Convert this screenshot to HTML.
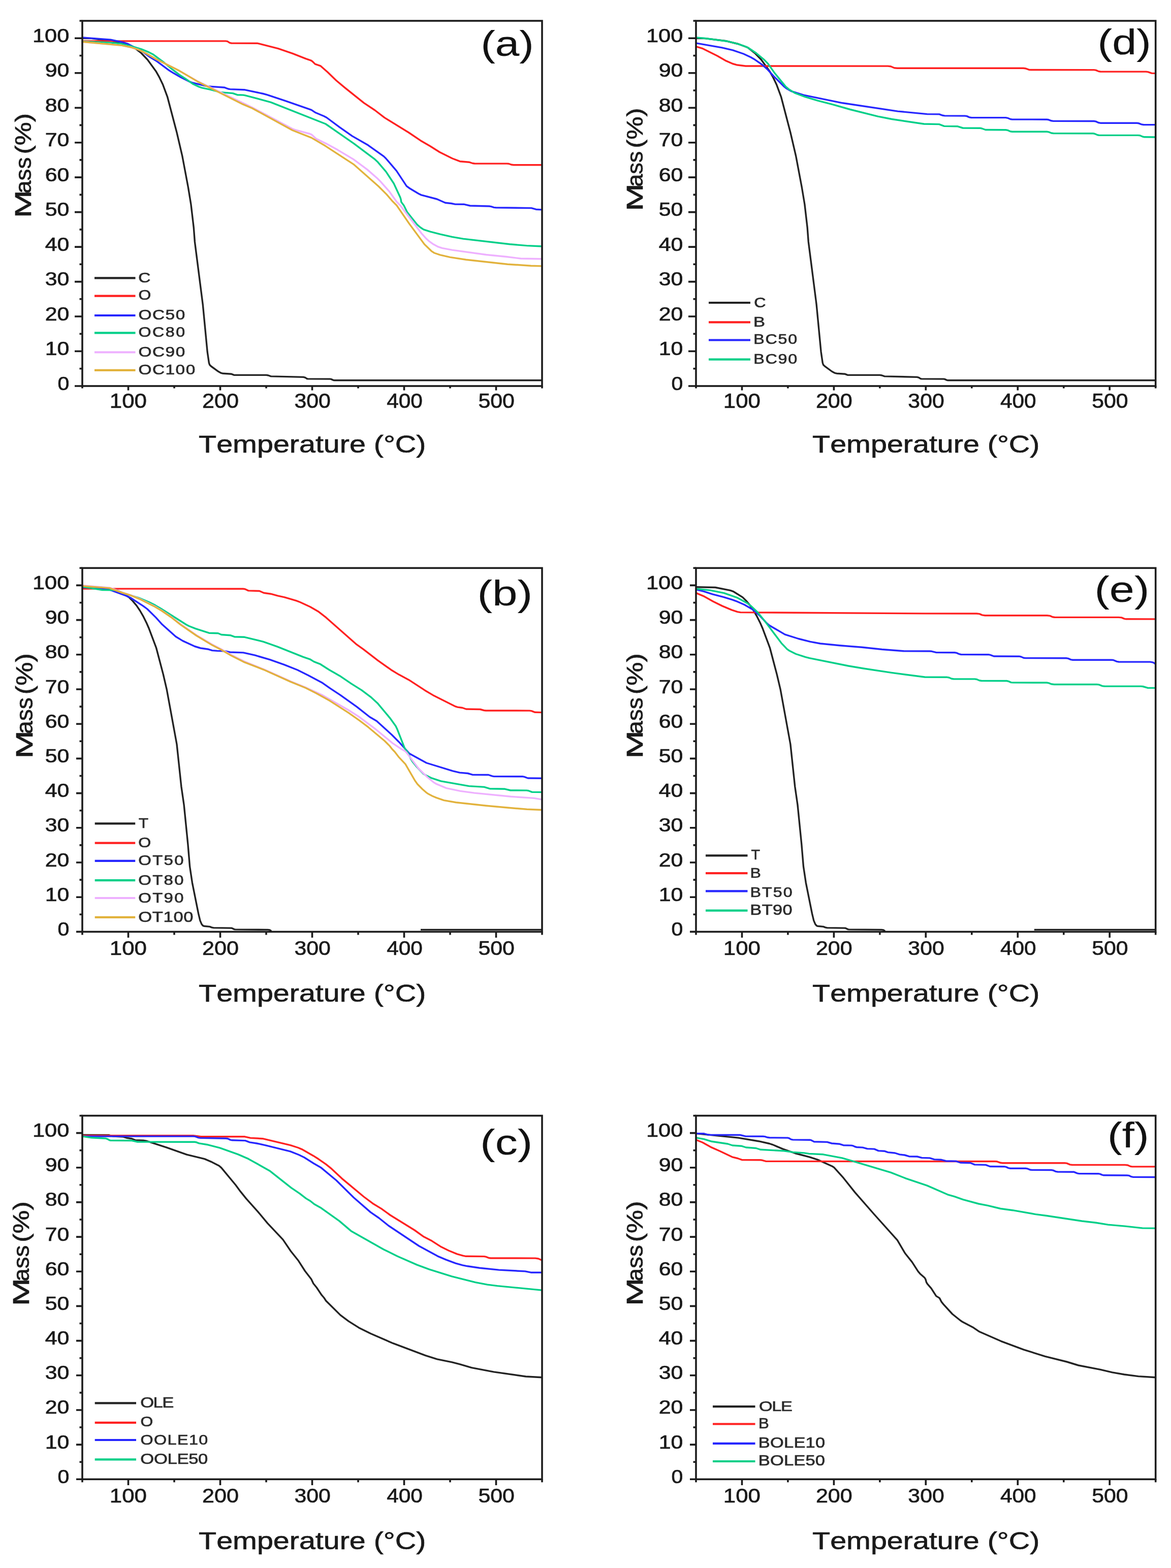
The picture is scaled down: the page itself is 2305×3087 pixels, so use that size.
<!DOCTYPE html>
<html><head><meta charset="utf-8"><title>TGA curves</title><style>
html,body{margin:0;padding:0;background:#fff;}
svg{display:block;}
text{font-family:'Liberation Sans',Arial,sans-serif;font-kerning:none;stroke:currentColor;stroke-width:0.7px;}
.pl{stroke-width:0.2px;}
</style></head><body>
<svg width="2305" height="3087" viewBox="0 0 2305 3087">
<rect width="2305" height="3087" fill="#fff"/>
<polyline points="162.0,75.3 180.0,75.6 221.7,80.8 245.0,86.5 263.7,93.5 278.0,104.5 290.4,117.5 306.9,140.2 313.8,152.4 320.7,166.8 329.7,191.2 348.0,260.9 358.9,307.7 370.4,368.7 375.9,402.3 381.3,448.1 383.4,476.0 399.2,599.2 408.2,692.8 411.4,714.6 412.7,718.3 415.4,721.0 430.0,731.6 435.3,734.4 439.1,735.3 455.0,736.2 460.2,738.2 524.1,738.4 528.0,739.0 533.3,740.9 597.3,742.4 600.9,743.3 603.9,745.5 605.7,745.9 649.6,746.1 651.5,746.4 656.6,748.6 658.5,748.8 1067.0,748.8" fill="none" stroke="#222222" stroke-width="3.4" stroke-linejoin="round"/>
<polyline points="162.0,80.9 444.1,80.9 447.7,81.4 451.8,84.1 455.2,85.0 507.1,85.3 547.7,95.7 576.1,105.4 602.1,115.7 611.6,118.8 614.8,120.7 620.3,126.1 631.2,129.9 644.6,141.8 661.9,158.5 678.8,172.6 716.3,202.6 737.9,217.0 756.9,231.6 804.6,261.0 827.8,276.7 846.8,287.7 865.4,299.5 890.5,312.0 905.3,317.7 923.2,319.2 930.3,321.5 934.1,322.0 998.1,322.1 1001.9,322.5 1007.2,324.3 1011.0,324.8 1067.0,324.8" fill="none" stroke="#ff2020" stroke-width="3.4" stroke-linejoin="round"/>
<polyline points="162.0,73.9 217.9,78.2 243.3,83.7 250.9,86.1 277.6,99.7 295.5,112.5 309.1,120.9 333.2,138.8 341.7,144.1 355.6,152.0 373.5,160.9 379.1,163.0 408.3,169.9 442.2,172.3 449.2,175.0 452.9,175.6 480.9,176.7 518.1,184.5 525.8,186.6 561.9,198.6 612.9,216.4 621.2,221.8 637.8,228.8 643.0,231.5 668.7,250.6 693.3,267.9 724.5,285.8 755.5,307.9 759.7,312.0 780.5,336.4 800.3,366.4 806.7,371.0 823.8,381.3 829.2,383.9 860.1,392.0 876.5,399.3 888.3,400.5 896.0,402.1 913.9,402.3 925.2,405.0 963.2,406.0 966.9,406.6 972.2,408.4 976.1,408.8 1046.1,409.6 1055.1,412.2 1067.0,412.9" fill="none" stroke="#2626ff" stroke-width="3.4" stroke-linejoin="round"/>
<polyline points="162.0,81.7 214.0,83.6 237.9,85.9 259.3,91.2 278.5,96.8 291.4,102.1 302.1,107.6 321.3,121.9 339.9,137.2 352.7,146.9 366.1,155.6 379.1,164.9 391.7,170.9 397.4,172.8 413.0,176.1 434.3,181.6 458.2,183.6 467.0,186.7 478.9,187.1 482.8,187.8 533.1,201.3 641.0,244.0 696.9,282.8 736.9,312.8 742.8,318.2 759.7,337.9 775.2,361.3 787.8,388.5 789.0,392.2 789.9,397.8 795.1,404.7 801.3,417.2 821.2,442.2 827.2,447.5 833.8,451.9 847.1,456.2 866.5,461.1 889.9,466.4 911.6,470.1 1003.1,480.8 1037.0,483.6 1067.0,485.0" fill="none" stroke="#00cf88" stroke-width="3.4" stroke-linejoin="round"/>
<polyline points="162.0,82.3 239.8,89.4 257.5,93.0 272.8,97.7 288.9,105.7 308.0,116.7 352.7,139.2 387.5,159.2 495.8,211.3 575.4,253.6 581.0,255.7 610.0,263.5 613.5,265.1 622.1,273.0 641.8,282.6 664.7,295.1 695.7,313.6 723.0,333.9 742.6,351.0 748.3,356.6 766.9,377.7 780.8,397.2 788.9,405.7 830.0,459.9 839.5,470.3 843.9,474.3 852.0,480.2 862.6,485.9 870.1,488.4 889.8,492.1 957.2,501.5 997.1,505.5 1024.9,509.0 1067.0,509.7" fill="none" stroke="#eeb0ff" stroke-width="3.4" stroke-linejoin="round"/>
<polyline points="162.0,82.3 239.8,89.4 257.4,93.0 274.5,98.5 288.8,105.7 307.9,116.7 352.6,139.1 388.8,160.4 478.3,205.4 496.7,213.2 575.7,256.5 612.9,271.1 640.5,287.3 695.8,323.3 745.3,367.0 760.9,382.6 772.7,396.3 780.9,404.5 805.8,440.8 835.5,481.1 850.0,494.9 854.9,498.0 866.3,501.9 885.8,506.4 917.4,511.2 999.0,520.2 1045.0,523.2 1067.0,523.9" fill="none" stroke="#e2b23c" stroke-width="3.4" stroke-linejoin="round"/>
<path d="M186.0,547.3H266.5" stroke="#222222" stroke-width="4.2"/>
<text transform="translate(272.31,555.54) scale(1.2415,1)" style="font-size:26.84px;color:#2a2a2a" fill="#2a2a2a">C</text>
<path d="M186.0,582.6H266.5" stroke="#ff2020" stroke-width="4.2"/>
<text transform="translate(272.49,590.24) scale(1.1784,1)" style="font-size:26.98px;color:#2a2a2a" fill="#2a2a2a">O</text>
<path d="M186.0,621.0H266.5" stroke="#2626ff" stroke-width="4.2"/>
<text transform="translate(272.42,628.83) scale(1.2000,1)" style="font-size:27.82px;letter-spacing:1.30px;color:#2a2a2a" fill="#2a2a2a">OC50</text>
<path d="M186.0,655.4H266.5" stroke="#00cf88" stroke-width="4.2"/>
<text transform="translate(272.47,663.44) scale(1.2000,1)" style="font-size:26.84px;letter-spacing:2.13px;color:#2a2a2a" fill="#2a2a2a">OC80</text>
<path d="M186.0,693.5H266.5" stroke="#eeb0ff" stroke-width="4.2"/>
<text transform="translate(272.42,702.03) scale(1.2000,1)" style="font-size:27.82px;letter-spacing:1.30px;color:#2a2a2a" fill="#2a2a2a">OC90</text>
<path d="M186.0,728.8H266.5" stroke="#e2b23c" stroke-width="4.2"/>
<text transform="translate(272.42,736.63) scale(1.2000,1)" style="font-size:27.82px;letter-spacing:1.27px;color:#2a2a2a" fill="#2a2a2a">OC100</text>
<polyline points="1370.0,75.3 1388.0,75.6 1429.7,80.8 1453.0,86.5 1471.7,93.5 1485.9,104.6 1498.4,117.5 1514.9,140.2 1521.8,152.4 1528.7,166.8 1537.7,191.2 1555.9,260.9 1566.8,307.7 1578.3,368.7 1583.9,402.3 1589.2,448.0 1591.3,476.0 1607.1,599.1 1616.1,692.7 1619.3,714.5 1620.6,718.2 1623.3,720.9 1637.8,731.5 1643.1,734.3 1646.9,735.2 1662.8,736.2 1668.0,738.2 1731.9,738.4 1735.8,739.0 1741.1,740.9 1805.1,742.4 1808.7,743.3 1811.7,745.4 1813.5,745.9 1857.4,746.1 1859.3,746.4 1864.4,748.6 1866.3,748.8 2274.7,748.8" fill="none" stroke="#222222" stroke-width="3.4" stroke-linejoin="round"/>
<polyline points="1370.0,91.7 1383.4,95.7 1412.0,110.0 1429.4,119.9 1442.2,125.5 1449.8,127.7 1467.6,130.0 1747.7,130.1 1753.4,130.8 1760.4,133.7 1766.3,134.2 2014.3,134.3 2018.2,134.7 2025.3,137.2 2029.2,137.5 2153.2,137.6 2157.0,138.1 2162.1,140.3 2165.9,141.0 2255.8,141.1 2259.7,141.6 2266.8,144.1 2274.7,144.4" fill="none" stroke="#ff2020" stroke-width="3.4" stroke-linejoin="round"/>
<polyline points="1370.0,84.9 1421.3,93.8 1442.7,98.9 1463.5,106.0 1478.0,112.8 1486.6,117.8 1501.3,128.2 1510.2,136.2 1522.4,149.5 1543.7,170.7 1548.4,174.4 1557.0,179.4 1581.8,187.1 1658.3,202.8 1767.2,219.1 1824.9,224.6 1848.8,224.9 1855.7,227.3 1859.4,227.9 1899.3,228.1 1903.1,228.6 1908.0,230.9 1911.7,231.5 1979.7,231.6 1983.4,232.3 1988.6,234.5 1992.4,235.1 2060.4,235.2 2064.2,235.8 2069.5,237.8 2073.3,238.4 2153.4,238.5 2157.1,239.1 2162.2,241.5 2165.9,242.2 2237.9,242.3 2241.7,242.8 2246.9,244.9 2250.7,245.5 2274.7,245.6" fill="none" stroke="#2626ff" stroke-width="3.4" stroke-linejoin="round"/>
<polyline points="1370.0,73.9 1387.9,75.5 1431.6,81.2 1453.0,86.6 1468.0,91.9 1473.4,94.5 1488.4,104.5 1503.8,117.3 1512.2,125.9 1524.8,143.9 1546.3,170.2 1552.3,175.4 1564.1,182.9 1584.7,190.6 1609.6,198.1 1638.7,205.6 1673.4,215.5 1727.8,229.1 1755.3,234.5 1818.6,244.0 1848.6,244.6 1858.5,248.4 1884.4,248.7 1895.2,252.0 1929.2,252.2 1932.9,253.0 1939.8,255.5 1979.8,255.8 1983.5,256.4 1988.7,258.7 1992.5,259.2 2060.6,259.3 2064.3,259.9 2069.6,262.0 2073.5,262.5 2151.5,262.7 2155.2,263.5 2160.3,265.8 2164.1,266.4 2240.1,266.4 2244.0,266.8 2249.1,269.0 2252.7,269.8 2274.7,270.0" fill="none" stroke="#00cf88" stroke-width="3.4" stroke-linejoin="round"/>
<path d="M1395.0,596.0H1477.0" stroke="#222222" stroke-width="4.2"/>
<text transform="translate(1484.16,604.54) scale(1.2003,1)" style="font-size:26.84px;color:#2a2a2a" fill="#2a2a2a">C</text>
<path d="M1395.0,634.4H1477.0" stroke="#ff2020" stroke-width="4.2"/>
<text transform="translate(1482.96,643.20) scale(1.2585,1)" style="font-size:27.47px;color:#2a2a2a" fill="#2a2a2a">B</text>
<path d="M1395.0,669.5H1477.0" stroke="#2626ff" stroke-width="4.2"/>
<text transform="translate(1483.16,677.24) scale(1.2000,1)" style="font-size:26.84px;letter-spacing:1.54px;color:#2a2a2a" fill="#2a2a2a">BC50</text>
<path d="M1395.0,707.6H1477.0" stroke="#00cf88" stroke-width="4.2"/>
<text transform="translate(1483.14,715.64) scale(1.2000,1)" style="font-size:26.98px;letter-spacing:1.43px;color:#2a2a2a" fill="#2a2a2a">BC90</text>
<polyline points="162.0,1155.8 200.0,1156.5 229.5,1162.4 235.1,1164.3 253.8,1175.9 260.9,1182.9 268.7,1192.1 275.4,1202.0 282.4,1214.2 288.6,1226.8 293.4,1237.8 307.5,1275.3 321.3,1327.6 328.1,1356.8 348.0,1465.2 356.9,1548.8 362.1,1584.5 369.9,1662.2 373.6,1706.1 378.4,1737.8 390.6,1798.7 393.9,1812.3 397.0,1819.6 399.6,1822.5 401.3,1823.3 413.0,1824.4 416.6,1825.9 420.4,1826.6 454.4,1827.1 456.3,1827.3 461.3,1829.6 463.2,1829.9 527.2,1830.4 531.0,1831.0 534.3,1833.1" fill="none" stroke="#222222" stroke-width="3.4" stroke-linejoin="round"/>
<polyline points="828.0,1830.4 1067.0,1830.4" fill="none" stroke="#222222" stroke-width="3.4" stroke-linejoin="round"/>
<polyline points="162.0,1159.1 478.4,1159.2 482.2,1159.8 488.9,1162.9 510.7,1163.5 519.2,1167.3 533.0,1169.2 546.5,1172.9 560.2,1175.9 583.2,1182.7 590.7,1185.5 610.7,1194.7 626.2,1203.7 642.0,1215.9 702.1,1268.9 715.1,1278.2 743.6,1300.2 769.8,1318.7 785.2,1328.1 804.6,1338.4 836.5,1359.2 852.0,1368.4 896.7,1390.9 900.5,1392.1 910.3,1393.5 917.4,1396.0 945.2,1396.5 952.4,1398.5 956.2,1399.0 1042.3,1399.1 1046.1,1399.6 1053.1,1402.3 1067.0,1402.6" fill="none" stroke="#ff2020" stroke-width="3.4" stroke-linejoin="round"/>
<polyline points="162.0,1156.4 190.0,1157.1 211.9,1159.6 247.6,1172.6 256.7,1176.8 281.9,1193.1 289.9,1199.0 307.0,1215.9 319.1,1229.3 345.9,1253.3 359.6,1261.6 383.2,1272.5 394.7,1276.0 410.4,1278.3 417.8,1280.6 427.7,1281.4 441.7,1281.7 452.9,1284.0 478.9,1284.9 502.4,1290.2 531.2,1298.7 559.5,1308.6 585.6,1319.0 607.1,1329.7 633.4,1343.7 649.8,1355.2 669.9,1368.3 702.5,1391.6 727.7,1411.5 741.4,1419.5 771.1,1446.5 785.2,1460.7 806.2,1483.8 839.5,1502.0 891.2,1517.9 904.8,1521.1 920.7,1522.5 929.7,1525.2 961.6,1525.5 968.5,1527.9 972.2,1528.6 1028.2,1528.7 1032.0,1529.4 1039.0,1532.0 1067.0,1532.2" fill="none" stroke="#2626ff" stroke-width="3.4" stroke-linejoin="round"/>
<polyline points="162.0,1155.0 201.5,1161.5 225.5,1161.9 231.3,1162.7 242.2,1167.4 272.8,1176.8 293.1,1185.2 305.6,1191.6 317.6,1198.7 366.6,1229.7 371.9,1232.5 384.9,1237.7 411.5,1246.2 429.3,1246.8 435.7,1249.5 453.3,1250.7 461.5,1253.7 481.4,1254.3 518.3,1263.4 546.6,1273.3 596.8,1293.3 610.0,1297.8 617.9,1302.6 630.8,1307.7 647.6,1318.5 668.5,1330.4 691.7,1346.1 712.0,1358.9 729.6,1372.1 742.9,1384.2 768.6,1414.9 779.0,1429.5 781.6,1434.9 796.2,1472.1 803.8,1483.5 808.7,1494.4 811.9,1499.4 819.4,1508.8 833.1,1523.2 838.2,1526.4 848.9,1531.6 867.9,1537.9 923.1,1547.6 953.0,1549.4 963.9,1552.7 993.8,1553.3 1004.8,1556.0 1036.7,1556.1 1040.5,1556.7 1047.1,1559.4 1067.0,1559.6" fill="none" stroke="#00cf88" stroke-width="3.4" stroke-linejoin="round"/>
<polyline points="162.0,1152.8 215.8,1157.1 221.5,1158.9 240.0,1166.4 259.1,1172.3 273.9,1178.3 304.3,1193.5 318.1,1201.6 336.3,1214.0 355.3,1228.6 386.5,1250.4 417.4,1268.8 435.2,1278.0 452.5,1288.0 481.1,1302.3 520.0,1318.1 572.9,1341.8 600.7,1353.1 635.2,1368.9 685.6,1397.7 705.9,1410.6 739.5,1435.7 773.5,1463.7 788.4,1473.7 797.0,1478.4 799.8,1481.1 823.8,1513.0 841.0,1529.8 853.3,1540.0 858.4,1543.1 878.6,1551.6 906.0,1557.4 933.7,1561.1 1005.4,1568.3 1051.3,1571.4 1067.0,1574.2" fill="none" stroke="#eeb0ff" stroke-width="3.4" stroke-linejoin="round"/>
<polyline points="162.0,1153.6 215.9,1157.9 240.3,1166.8 257.5,1172.2 274.2,1179.1 302.9,1193.4 318.4,1202.5 336.6,1215.0 355.5,1229.8 386.8,1251.5 417.7,1270.1 435.5,1279.3 452.8,1289.4 479.5,1303.1 518.7,1318.3 571.7,1342.1 601.4,1354.2 622.8,1364.9 649.0,1379.6 686.1,1403.4 707.4,1418.4 725.0,1431.7 757.2,1458.7 767.1,1468.6 771.8,1474.8 777.1,1480.2 784.4,1489.8 798.0,1504.4 817.1,1537.3 821.7,1543.7 831.6,1553.7 839.1,1560.3 844.1,1563.6 851.2,1567.2 858.6,1570.4 873.7,1575.6 897.4,1579.7 957.1,1586.3 1001.0,1590.3 1037.0,1593.3 1067.0,1594.5" fill="none" stroke="#e2b23c" stroke-width="3.4" stroke-linejoin="round"/>
<path d="M186.7,1621.3H266.2" stroke="#222222" stroke-width="4.2"/>
<text transform="translate(273.10,1630.10) scale(1.0982,1)" style="font-size:28.34px;color:#2a2a2a" fill="#2a2a2a">T</text>
<path d="M186.7,1659.7H266.2" stroke="#ff2020" stroke-width="4.2"/>
<text transform="translate(272.28,1668.43) scale(1.1709,1)" style="font-size:27.40px;color:#2a2a2a" fill="#2a2a2a">O</text>
<path d="M186.7,1694.8H266.2" stroke="#2626ff" stroke-width="4.2"/>
<text transform="translate(272.24,1703.43) scale(1.2000,1)" style="font-size:27.40px;letter-spacing:1.95px;color:#2a2a2a" fill="#2a2a2a">OT50</text>
<path d="M186.7,1733.2H266.2" stroke="#00cf88" stroke-width="4.2"/>
<text transform="translate(272.24,1741.93) scale(1.2000,1)" style="font-size:27.40px;letter-spacing:1.95px;color:#2a2a2a" fill="#2a2a2a">OT80</text>
<path d="M186.7,1768.0H266.2" stroke="#eeb0ff" stroke-width="4.2"/>
<text transform="translate(272.24,1776.73) scale(1.2000,1)" style="font-size:27.40px;letter-spacing:1.95px;color:#2a2a2a" fill="#2a2a2a">OT90</text>
<path d="M186.7,1805.9H266.2" stroke="#e2b23c" stroke-width="4.2"/>
<text transform="translate(272.16,1814.92) scale(1.2000,1)" style="font-size:28.81px;letter-spacing:0.56px;color:#2a2a2a" fill="#2a2a2a">OT100</text>
<polyline points="1370.0,1155.8 1408.0,1156.5 1437.5,1162.4 1443.1,1164.3 1461.8,1175.9 1468.9,1182.9 1476.6,1192.1 1483.4,1202.1 1490.3,1214.2 1496.6,1226.8 1501.4,1237.8 1515.4,1275.3 1529.2,1327.6 1536.1,1356.8 1555.9,1465.2 1564.8,1548.8 1570.0,1584.5 1577.8,1662.2 1581.5,1706.1 1586.3,1737.8 1598.5,1798.7 1601.8,1812.3 1604.9,1819.6 1607.5,1822.5 1609.1,1823.3 1620.9,1824.4 1624.5,1825.9 1628.2,1826.6 1662.3,1827.1 1664.2,1827.3 1669.2,1829.6 1671.1,1829.9 1735.1,1830.4 1738.9,1831.0 1742.2,1833.1" fill="none" stroke="#222222" stroke-width="3.4" stroke-linejoin="round"/>
<polyline points="2035.8,1830.4 2274.7,1830.4" fill="none" stroke="#222222" stroke-width="3.4" stroke-linejoin="round"/>
<polyline points="1370.0,1167.4 1384.8,1173.6 1404.0,1184.3 1422.0,1193.1 1440.4,1200.9 1451.8,1204.6 1457.7,1205.6 1820.2,1207.9 1922.3,1208.0 1928.1,1208.6 1933.2,1210.9 1938.9,1211.8 2061.0,1211.8 2066.8,1212.4 2072.0,1214.7 2075.8,1215.3 2201.9,1215.4 2207.7,1215.9 2212.9,1218.1 2216.6,1218.8 2274.7,1218.9" fill="none" stroke="#ff2020" stroke-width="3.4" stroke-linejoin="round"/>
<polyline points="1370.0,1160.5 1385.5,1164.4 1402.6,1169.9 1423.9,1175.4 1441.2,1180.7 1448.7,1183.3 1465.2,1190.5 1479.1,1198.4 1484.0,1201.8 1495.9,1212.5 1509.5,1227.1 1514.0,1231.0 1545.1,1249.1 1571.7,1257.5 1595.0,1263.3 1614.7,1267.0 1652.5,1270.8 1696.3,1274.3 1736.1,1278.5 1778.0,1281.7 1830.0,1282.0 1833.9,1282.3 1843.2,1284.6 1879.1,1284.8 1882.9,1285.4 1888.0,1287.7 1891.7,1288.5 1945.6,1288.7 1949.3,1289.4 1956.2,1292.0 2006.1,1292.2 2009.9,1293.0 2015.0,1295.2 2018.9,1295.6 2098.8,1295.8 2102.6,1296.4 2107.8,1298.6 2111.5,1299.2 2187.5,1299.3 2191.4,1299.5 2198.3,1302.4 2202.0,1303.0 2264.0,1303.1 2269.7,1304.1 2274.7,1307.2" fill="none" stroke="#2626ff" stroke-width="3.4" stroke-linejoin="round"/>
<polyline points="1370.0,1159.1 1397.9,1162.1 1425.3,1167.7 1451.7,1176.9 1471.0,1187.5 1477.4,1192.3 1491.9,1206.0 1508.1,1226.3 1538.2,1266.3 1549.2,1277.9 1554.1,1281.3 1566.6,1287.5 1585.6,1293.7 1593.4,1295.7 1669.9,1311.0 1699.5,1316.0 1754.9,1324.4 1820.4,1333.0 1864.4,1333.3 1868.2,1334.0 1873.2,1336.2 1877.0,1336.8 1919.0,1336.9 1922.8,1337.5 1928.0,1339.7 1931.7,1340.3 1981.7,1340.5 1985.3,1341.4 1990.4,1343.6 1994.3,1343.9 2060.3,1344.0 2064.1,1344.6 2069.3,1346.8 2075.0,1347.5 2159.1,1347.5 2163.0,1347.9 2170.0,1350.6 2173.8,1351.0 2245.8,1351.1 2249.7,1351.5 2258.7,1354.2 2274.7,1354.4" fill="none" stroke="#00cf88" stroke-width="3.4" stroke-linejoin="round"/>
<path d="M1389.0,1684.4H1471.5" stroke="#222222" stroke-width="4.2"/>
<text transform="translate(1478.46,1691.80) scale(1.0374,1)" style="font-size:27.62px;color:#2a2a2a" fill="#2a2a2a">T</text>
<path d="M1389.0,1719.2H1471.5" stroke="#ff2020" stroke-width="4.2"/>
<text transform="translate(1476.46,1728.20) scale(1.1394,1)" style="font-size:28.20px;color:#2a2a2a" fill="#2a2a2a">B</text>
<path d="M1389.0,1754.3H1471.5" stroke="#2626ff" stroke-width="4.2"/>
<text transform="translate(1476.46,1765.54) scale(1.2000,1)" style="font-size:26.84px;letter-spacing:1.73px;color:#2a2a2a" fill="#2a2a2a">BT50</text>
<path d="M1389.0,1792.7H1471.5" stroke="#00cf88" stroke-width="4.2"/>
<text transform="translate(1476.28,1801.22) scale(1.2000,1)" style="font-size:28.67px;letter-spacing:0.34px;color:#2a2a2a" fill="#2a2a2a">BT90</text>
<polyline points="162.0,2234.4 214.0,2234.6 223.0,2237.1 242.8,2238.1 249.9,2240.4 259.5,2241.8 266.2,2244.6 282.1,2245.3 287.9,2246.2 328.0,2259.1 367.6,2273.2 402.6,2281.6 415.4,2287.1 431.4,2295.3 435.8,2299.1 463.9,2333.0 473.4,2345.9 484.7,2359.9 507.5,2385.3 526.7,2408.4 556.9,2440.4 572.6,2463.5 587.6,2482.3 600.5,2502.5 612.7,2518.3 616.9,2527.0 623.2,2534.8 633.2,2549.7 637.8,2555.0 641.7,2561.0 670.1,2589.1 686.1,2601.1 706.4,2613.9 729.7,2625.5 773.8,2644.7 837.5,2668.6 860.4,2675.8 889.8,2681.9 905.3,2685.9 928.3,2692.7 971.6,2700.9 1035.0,2710.0 1067.0,2711.7" fill="none" stroke="#222222" stroke-width="3.4" stroke-linejoin="round"/>
<polyline points="162.0,2235.8 380.3,2235.8 395.7,2237.7 481.8,2237.8 493.1,2240.4 517.0,2241.7 571.6,2254.6 586.8,2259.5 594.1,2262.6 616.7,2275.4 626.8,2281.8 641.6,2292.2 652.5,2300.9 672.9,2320.1 716.0,2356.0 733.6,2369.2 750.7,2379.6 768.5,2392.5 816.2,2422.0 834.1,2434.8 850.1,2443.1 866.9,2453.9 883.0,2462.0 899.7,2468.9 911.2,2472.2 917.1,2473.3 953.0,2473.6 956.8,2474.4 962.0,2476.5 965.8,2477.0 1053.9,2477.1 1059.7,2478.0 1067.0,2481.2" fill="none" stroke="#ff2020" stroke-width="3.4" stroke-linejoin="round"/>
<polyline points="162.0,2237.1 380.2,2237.1 384.1,2237.4 390.9,2239.9 394.7,2240.4 444.7,2241.2 448.5,2241.8 453.4,2244.1 457.0,2244.8 482.9,2245.6 491.5,2248.9 505.3,2251.0 522.9,2254.8 571.5,2266.9 588.2,2273.5 599.0,2278.8 617.5,2290.5 631.4,2298.4 662.2,2324.0 696.3,2357.7 729.5,2386.6 746.0,2398.0 764.7,2413.0 824.7,2453.0 861.5,2473.1 878.1,2480.1 896.9,2487.1 910.4,2490.8 920.2,2492.8 943.9,2496.3 981.8,2500.1 1033.7,2502.9 1045.0,2505.2 1067.0,2505.3" fill="none" stroke="#2626ff" stroke-width="3.4" stroke-linejoin="round"/>
<polyline points="162.0,2237.1 179.8,2239.8 207.7,2241.2 211.2,2242.3 215.9,2244.9 217.7,2245.2 259.7,2245.5 270.6,2248.0 382.7,2248.2 386.5,2248.8 391.7,2250.9 409.4,2253.8 432.7,2259.8 468.5,2272.6 488.7,2281.4 530.7,2304.9 573.1,2338.3 589.7,2349.6 602.3,2359.4 610.9,2364.5 618.3,2370.4 632.2,2378.3 668.0,2403.9 690.9,2423.4 755.4,2459.9 782.3,2473.2 820.8,2490.1 845.2,2499.2 889.2,2512.9 935.8,2524.6 959.4,2529.1 979.3,2531.6 1067.0,2540.1" fill="none" stroke="#00cf88" stroke-width="3.4" stroke-linejoin="round"/>
<path d="M186.7,2762.4H268.0" stroke="#222222" stroke-width="4.2"/>
<text transform="translate(276.36,2770.92) scale(1.2000,1)" style="font-size:28.81px;letter-spacing:-1.36px;color:#2a2a2a" fill="#2a2a2a">OLE</text>
<path d="M186.7,2800.8H268.0" stroke="#ff2020" stroke-width="4.2"/>
<text transform="translate(276.49,2807.94) scale(1.1846,1)" style="font-size:26.84px;color:#2a2a2a" fill="#2a2a2a">O</text>
<path d="M186.7,2835.0H268.0" stroke="#2626ff" stroke-width="4.2"/>
<text transform="translate(276.47,2843.54) scale(1.2000,1)" style="font-size:26.84px;letter-spacing:1.25px;color:#2a2a2a" fill="#2a2a2a">OOLE10</text>
<path d="M186.7,2873.4H268.0" stroke="#00cf88" stroke-width="4.2"/>
<text transform="translate(276.36,2881.92) scale(1.2000,1)" style="font-size:28.81px;letter-spacing:-0.26px;color:#2a2a2a" fill="#2a2a2a">OOLE50</text>
<polyline points="1370.0,2231.6 1453.6,2240.1 1493.1,2246.7 1514.6,2251.5 1520.3,2253.3 1540.5,2261.9 1565.1,2270.5 1594.1,2278.1 1609.3,2283.1 1638.4,2296.3 1641.7,2298.4 1660.4,2319.2 1682.8,2347.4 1721.0,2391.0 1766.4,2441.7 1781.6,2467.5 1795.3,2484.6 1807.2,2503.2 1811.1,2507.7 1820.0,2515.5 1821.9,2518.7 1823.5,2524.3 1825.4,2527.6 1833.2,2536.7 1842.8,2551.6 1848.7,2555.1 1849.8,2556.4 1853.3,2563.2 1857.1,2567.8 1874.6,2587.0 1890.2,2599.5 1895.2,2602.8 1914.7,2612.9 1927.9,2621.8 1970.1,2640.3 2015.0,2657.1 2057.1,2670.3 2099.8,2681.0 2122.7,2688.0 2166.0,2696.3 2189.3,2701.9 2213.0,2706.0 2240.7,2709.6 2274.7,2711.7" fill="none" stroke="#222222" stroke-width="3.4" stroke-linejoin="round"/>
<polyline points="1370.0,2244.0 1383.0,2249.3 1398.7,2258.1 1417.0,2266.2 1442.3,2278.2 1452.0,2280.5 1460.9,2283.6 1496.9,2283.8 1500.7,2284.3 1507.9,2286.4 1958.7,2286.5 1962.6,2286.8 1969.8,2289.3 1973.6,2289.7 2095.8,2289.8 2099.7,2290.1 2106.3,2292.9 2110.1,2293.3 2214.3,2293.4 2220.0,2294.0 2224.9,2296.3 2228.6,2296.9 2274.7,2296.9" fill="none" stroke="#ff2020" stroke-width="3.4" stroke-linejoin="round"/>
<polyline points="1370.0,2231.6 1385.9,2231.8 1393.1,2233.9 1396.9,2234.3 1456.9,2234.5 1467.8,2237.1 1501.8,2237.2 1505.6,2237.6 1510.9,2239.3 1514.7,2239.8 1550.6,2240.1 1553.9,2241.2 1557.0,2243.1 1560.5,2243.9 1594.4,2244.2 1596.2,2244.6 1602.5,2247.8 1628.2,2248.4 1637.2,2251.0 1653.0,2252.3 1660.1,2254.7 1676.0,2255.1 1679.6,2255.9 1682.8,2257.5 1686.3,2258.5 1698.2,2259.1 1707.2,2261.6 1721.0,2262.1 1729.1,2265.6 1740.8,2266.2 1747.9,2268.6 1761.7,2270.0 1770.7,2272.9 1780.6,2274.0 1789.5,2276.7 1805.4,2277.0 1814.4,2279.4 1830.2,2279.9 1839.1,2282.6 1853.0,2283.3 1862.0,2285.7 1881.8,2286.1 1890.5,2289.0 1910.2,2289.5 1918.5,2292.9 1940.3,2293.4 1948.7,2296.5 1976.6,2296.7 1980.3,2297.4 1985.2,2299.6 1988.9,2300.2 2018.9,2300.3 2022.6,2300.9 2027.6,2303.0 2031.4,2303.4 2069.4,2303.5 2073.1,2304.1 2078.0,2306.4 2081.7,2307.0 2113.6,2307.2 2120.3,2309.9 2124.0,2310.6 2161.9,2310.7 2165.6,2311.4 2168.9,2312.9 2172.5,2313.8 2218.4,2314.0 2222.2,2314.4 2227.1,2316.7 2230.7,2317.4 2274.7,2317.5" fill="none" stroke="#2626ff" stroke-width="3.4" stroke-linejoin="round"/>
<polyline points="1370.0,2239.9 1385.7,2242.7 1401.0,2247.3 1432.6,2252.0 1441.6,2255.0 1459.4,2256.2 1468.4,2259.0 1488.2,2260.5 1497.2,2263.3 1543.1,2265.8 1560.9,2268.4 1582.8,2269.9 1592.5,2271.4 1620.5,2272.8 1657.8,2279.8 1753.6,2308.4 1783.4,2320.1 1825.0,2334.1 1865.3,2351.8 1878.7,2355.7 1895.6,2361.7 1926.5,2370.0 1944.2,2373.3 1969.5,2379.5 1993.2,2382.7 2038.5,2390.6 2060.4,2393.5 2129.6,2404.0 2157.4,2407.3 2181.1,2411.1 2214.9,2414.1 2248.7,2417.9 2274.7,2418.1" fill="none" stroke="#00cf88" stroke-width="3.4" stroke-linejoin="round"/>
<path d="M1403.0,2769.2H1486.5" stroke="#222222" stroke-width="4.2"/>
<text transform="translate(1493.98,2777.72) scale(1.2000,1)" style="font-size:28.53px;letter-spacing:-1.09px;color:#2a2a2a" fill="#2a2a2a">OLE</text>
<path d="M1403.0,2803.5H1486.5" stroke="#ff2020" stroke-width="4.2"/>
<text transform="translate(1493.04,2812.20) scale(1.0519,1)" style="font-size:29.65px;color:#2a2a2a" fill="#2a2a2a">B</text>
<path d="M1403.0,2841.9H1486.5" stroke="#2626ff" stroke-width="4.2"/>
<text transform="translate(1492.78,2850.42) scale(1.2000,1)" style="font-size:28.67px;letter-spacing:0.22px;color:#2a2a2a" fill="#2a2a2a">BOLE10</text>
<path d="M1403.0,2877.0H1486.5" stroke="#00cf88" stroke-width="4.2"/>
<text transform="translate(1492.76,2884.72) scale(1.2000,1)" style="font-size:28.81px;letter-spacing:0.11px;color:#2a2a2a" fill="#2a2a2a">BOLE50</text>
<rect x="162.0" y="41.0" width="905.0" height="719.0" fill="none" stroke="#1c1c1c" stroke-width="3.6"/>
<path d="M147.0,760.0H162.0M156.5,725.8H162.0M147.0,691.5H162.0M156.5,657.3H162.0M147.0,623.0H162.0M156.5,588.8H162.0M147.0,554.6H162.0M156.5,520.3H162.0M147.0,486.1H162.0M156.5,451.9H162.0M147.0,417.6H162.0M156.5,383.4H162.0M147.0,349.1H162.0M156.5,314.9H162.0M147.0,280.7H162.0M156.5,246.4H162.0M147.0,212.2H162.0M156.5,178.0H162.0M147.0,143.7H162.0M156.5,109.5H162.0M147.0,75.2H162.0M156.5,41.0H162.0M162.0,760.0V764.5M252.5,760.0V768.5M343.0,760.0V764.5M433.5,760.0V768.5M524.0,760.0V764.5M614.5,760.0V768.5M705.0,760.0V764.5M795.5,760.0V768.5M886.0,760.0V764.5M976.5,760.0V768.5M1067.0,760.0V764.5" stroke="#1c1c1c" stroke-width="3.6" fill="none"/>
<text transform="translate(113.46,767.54) scale(1.1018,1)" style="font-size:37.29px;color:#1a1a1a" fill="#1a1a1a">0</text>
<text transform="translate(88.74,699.06) scale(1.1485,1)" style="font-size:37.29px;color:#1a1a1a" fill="#1a1a1a">10</text>
<text transform="translate(88.69,630.58) scale(1.1496,1)" style="font-size:37.29px;color:#1a1a1a" fill="#1a1a1a">20</text>
<text transform="translate(88.67,562.11) scale(1.1501,1)" style="font-size:37.29px;color:#1a1a1a" fill="#1a1a1a">30</text>
<text transform="translate(88.65,493.63) scale(1.1507,1)" style="font-size:37.29px;color:#1a1a1a" fill="#1a1a1a">40</text>
<text transform="translate(88.68,425.15) scale(1.1500,1)" style="font-size:37.29px;color:#1a1a1a" fill="#1a1a1a">50</text>
<text transform="translate(88.70,356.68) scale(1.1496,1)" style="font-size:37.29px;color:#1a1a1a" fill="#1a1a1a">60</text>
<text transform="translate(88.70,288.20) scale(1.1496,1)" style="font-size:37.29px;color:#1a1a1a" fill="#1a1a1a">70</text>
<text transform="translate(88.68,219.73) scale(1.1499,1)" style="font-size:37.29px;color:#1a1a1a" fill="#1a1a1a">80</text>
<text transform="translate(88.69,151.25) scale(1.1497,1)" style="font-size:37.29px;color:#1a1a1a" fill="#1a1a1a">90</text>
<text transform="translate(63.98,82.77) scale(1.1639,1)" style="font-size:37.29px;color:#1a1a1a" fill="#1a1a1a">100</text>
<text transform="translate(215.81,803.11) scale(1.1008,1)" style="font-size:39.83px;color:#1a1a1a" fill="#1a1a1a">100</text>
<text transform="translate(397.98,803.11) scale(1.0827,1)" style="font-size:39.83px;color:#1a1a1a" fill="#1a1a1a">200</text>
<text transform="translate(579.52,803.11) scale(1.0744,1)" style="font-size:39.83px;color:#1a1a1a" fill="#1a1a1a">300</text>
<text transform="translate(761.18,803.11) scale(1.0643,1)" style="font-size:39.83px;color:#1a1a1a" fill="#1a1a1a">400</text>
<text transform="translate(941.43,803.11) scale(1.0758,1)" style="font-size:39.83px;color:#1a1a1a" fill="#1a1a1a">500</text>
<text transform="translate(391.11,890.56) scale(1.2110,1)" style="font-size:47.42px;color:#1a1a1a" fill="#1a1a1a">Temperature (°C)</text>
<rect x="1370.0" y="41.0" width="904.7" height="719.0" fill="none" stroke="#1c1c1c" stroke-width="3.6"/>
<path d="M1355.0,760.0H1370.0M1364.5,725.8H1370.0M1355.0,691.5H1370.0M1364.5,657.3H1370.0M1355.0,623.0H1370.0M1364.5,588.8H1370.0M1355.0,554.6H1370.0M1364.5,520.3H1370.0M1355.0,486.1H1370.0M1364.5,451.9H1370.0M1355.0,417.6H1370.0M1364.5,383.4H1370.0M1355.0,349.1H1370.0M1364.5,314.9H1370.0M1355.0,280.7H1370.0M1364.5,246.4H1370.0M1355.0,212.2H1370.0M1364.5,178.0H1370.0M1355.0,143.7H1370.0M1364.5,109.5H1370.0M1355.0,75.2H1370.0M1364.5,41.0H1370.0M1370.0,760.0V764.5M1460.5,760.0V768.5M1550.9,760.0V764.5M1641.4,760.0V768.5M1731.9,760.0V764.5M1822.3,760.0V768.5M1912.8,760.0V764.5M2003.3,760.0V768.5M2093.8,760.0V764.5M2184.2,760.0V768.5M2274.7,760.0V764.5" stroke="#1c1c1c" stroke-width="3.6" fill="none"/>
<text transform="translate(1321.46,767.54) scale(1.1018,1)" style="font-size:37.29px;color:#1a1a1a" fill="#1a1a1a">0</text>
<text transform="translate(1296.74,699.06) scale(1.1485,1)" style="font-size:37.29px;color:#1a1a1a" fill="#1a1a1a">10</text>
<text transform="translate(1296.69,630.58) scale(1.1496,1)" style="font-size:37.29px;color:#1a1a1a" fill="#1a1a1a">20</text>
<text transform="translate(1296.67,562.11) scale(1.1501,1)" style="font-size:37.29px;color:#1a1a1a" fill="#1a1a1a">30</text>
<text transform="translate(1296.65,493.63) scale(1.1507,1)" style="font-size:37.29px;color:#1a1a1a" fill="#1a1a1a">40</text>
<text transform="translate(1296.68,425.15) scale(1.1500,1)" style="font-size:37.29px;color:#1a1a1a" fill="#1a1a1a">50</text>
<text transform="translate(1296.70,356.68) scale(1.1496,1)" style="font-size:37.29px;color:#1a1a1a" fill="#1a1a1a">60</text>
<text transform="translate(1296.70,288.20) scale(1.1496,1)" style="font-size:37.29px;color:#1a1a1a" fill="#1a1a1a">70</text>
<text transform="translate(1296.68,219.73) scale(1.1499,1)" style="font-size:37.29px;color:#1a1a1a" fill="#1a1a1a">80</text>
<text transform="translate(1296.69,151.25) scale(1.1497,1)" style="font-size:37.29px;color:#1a1a1a" fill="#1a1a1a">90</text>
<text transform="translate(1271.98,82.77) scale(1.1639,1)" style="font-size:37.29px;color:#1a1a1a" fill="#1a1a1a">100</text>
<text transform="translate(1423.78,803.11) scale(1.1008,1)" style="font-size:39.83px;color:#1a1a1a" fill="#1a1a1a">100</text>
<text transform="translate(1605.89,803.11) scale(1.0827,1)" style="font-size:39.83px;color:#1a1a1a" fill="#1a1a1a">200</text>
<text transform="translate(1787.37,803.11) scale(1.0744,1)" style="font-size:39.83px;color:#1a1a1a" fill="#1a1a1a">300</text>
<text transform="translate(1968.97,803.11) scale(1.0643,1)" style="font-size:39.83px;color:#1a1a1a" fill="#1a1a1a">400</text>
<text transform="translate(2149.16,803.11) scale(1.0758,1)" style="font-size:39.83px;color:#1a1a1a" fill="#1a1a1a">500</text>
<text transform="translate(1599.11,890.56) scale(1.2110,1)" style="font-size:47.42px;color:#1a1a1a" fill="#1a1a1a">Temperature (°C)</text>
<rect x="162.0" y="1118.3" width="905.0" height="716.1" fill="none" stroke="#1c1c1c" stroke-width="3.6"/>
<path d="M150.0,1834.4H162.0M156.5,1800.3H162.0M150.0,1766.2H162.0M156.5,1732.1H162.0M150.0,1698.0H162.0M156.5,1663.9H162.0M150.0,1629.8H162.0M156.5,1595.7H162.0M150.0,1561.6H162.0M156.5,1527.5H162.0M150.0,1493.4H162.0M156.5,1459.3H162.0M150.0,1425.2H162.0M156.5,1391.1H162.0M150.0,1357.0H162.0M156.5,1322.9H162.0M150.0,1288.8H162.0M156.5,1254.7H162.0M150.0,1220.6H162.0M156.5,1186.5H162.0M150.0,1152.4H162.0M156.5,1118.3H162.0M162.0,1834.4V1840.4M252.5,1834.4V1846.0M343.0,1834.4V1840.4M433.5,1834.4V1846.0M524.0,1834.4V1840.4M614.5,1834.4V1846.0M705.0,1834.4V1840.4M795.5,1834.4V1846.0M886.0,1834.4V1840.4M976.5,1834.4V1846.0M1067.0,1834.4V1840.4" stroke="#1c1c1c" stroke-width="3.6" fill="none"/>
<text transform="translate(113.46,1841.94) scale(1.1018,1)" style="font-size:37.29px;color:#1a1a1a" fill="#1a1a1a">0</text>
<text transform="translate(88.74,1773.74) scale(1.1485,1)" style="font-size:37.29px;color:#1a1a1a" fill="#1a1a1a">10</text>
<text transform="translate(88.69,1705.54) scale(1.1496,1)" style="font-size:37.29px;color:#1a1a1a" fill="#1a1a1a">20</text>
<text transform="translate(88.67,1637.34) scale(1.1501,1)" style="font-size:37.29px;color:#1a1a1a" fill="#1a1a1a">30</text>
<text transform="translate(88.65,1569.14) scale(1.1507,1)" style="font-size:37.29px;color:#1a1a1a" fill="#1a1a1a">40</text>
<text transform="translate(88.68,1500.94) scale(1.1500,1)" style="font-size:37.29px;color:#1a1a1a" fill="#1a1a1a">50</text>
<text transform="translate(88.70,1432.74) scale(1.1496,1)" style="font-size:37.29px;color:#1a1a1a" fill="#1a1a1a">60</text>
<text transform="translate(88.70,1364.54) scale(1.1496,1)" style="font-size:37.29px;color:#1a1a1a" fill="#1a1a1a">70</text>
<text transform="translate(88.68,1296.34) scale(1.1499,1)" style="font-size:37.29px;color:#1a1a1a" fill="#1a1a1a">80</text>
<text transform="translate(88.69,1228.14) scale(1.1497,1)" style="font-size:37.29px;color:#1a1a1a" fill="#1a1a1a">90</text>
<text transform="translate(63.98,1159.94) scale(1.1639,1)" style="font-size:37.29px;color:#1a1a1a" fill="#1a1a1a">100</text>
<text transform="translate(215.81,1880.42) scale(1.1329,1)" style="font-size:38.70px;color:#1a1a1a" fill="#1a1a1a">100</text>
<text transform="translate(397.98,1880.42) scale(1.1144,1)" style="font-size:38.70px;color:#1a1a1a" fill="#1a1a1a">200</text>
<text transform="translate(579.52,1880.42) scale(1.1058,1)" style="font-size:38.70px;color:#1a1a1a" fill="#1a1a1a">300</text>
<text transform="translate(761.18,1880.42) scale(1.0954,1)" style="font-size:38.70px;color:#1a1a1a" fill="#1a1a1a">400</text>
<text transform="translate(941.43,1880.42) scale(1.1072,1)" style="font-size:38.70px;color:#1a1a1a" fill="#1a1a1a">500</text>
<text transform="translate(391.11,1972.04) scale(1.1842,1)" style="font-size:48.49px;color:#1a1a1a" fill="#1a1a1a">Temperature (°C)</text>
<rect x="1370.0" y="1118.3" width="904.7" height="716.1" fill="none" stroke="#1c1c1c" stroke-width="3.6"/>
<path d="M1358.0,1834.4H1370.0M1364.5,1800.3H1370.0M1358.0,1766.2H1370.0M1364.5,1732.1H1370.0M1358.0,1698.0H1370.0M1364.5,1663.9H1370.0M1358.0,1629.8H1370.0M1364.5,1595.7H1370.0M1358.0,1561.6H1370.0M1364.5,1527.5H1370.0M1358.0,1493.4H1370.0M1364.5,1459.3H1370.0M1358.0,1425.2H1370.0M1364.5,1391.1H1370.0M1358.0,1357.0H1370.0M1364.5,1322.9H1370.0M1358.0,1288.8H1370.0M1364.5,1254.7H1370.0M1358.0,1220.6H1370.0M1364.5,1186.5H1370.0M1358.0,1152.4H1370.0M1364.5,1118.3H1370.0M1370.0,1834.4V1840.4M1460.5,1834.4V1846.0M1550.9,1834.4V1840.4M1641.4,1834.4V1846.0M1731.9,1834.4V1840.4M1822.3,1834.4V1846.0M1912.8,1834.4V1840.4M2003.3,1834.4V1846.0M2093.8,1834.4V1840.4M2184.2,1834.4V1846.0M2274.7,1834.4V1840.4" stroke="#1c1c1c" stroke-width="3.6" fill="none"/>
<text transform="translate(1321.46,1841.94) scale(1.1018,1)" style="font-size:37.29px;color:#1a1a1a" fill="#1a1a1a">0</text>
<text transform="translate(1296.74,1773.74) scale(1.1485,1)" style="font-size:37.29px;color:#1a1a1a" fill="#1a1a1a">10</text>
<text transform="translate(1296.69,1705.54) scale(1.1496,1)" style="font-size:37.29px;color:#1a1a1a" fill="#1a1a1a">20</text>
<text transform="translate(1296.67,1637.34) scale(1.1501,1)" style="font-size:37.29px;color:#1a1a1a" fill="#1a1a1a">30</text>
<text transform="translate(1296.65,1569.14) scale(1.1507,1)" style="font-size:37.29px;color:#1a1a1a" fill="#1a1a1a">40</text>
<text transform="translate(1296.68,1500.94) scale(1.1500,1)" style="font-size:37.29px;color:#1a1a1a" fill="#1a1a1a">50</text>
<text transform="translate(1296.70,1432.74) scale(1.1496,1)" style="font-size:37.29px;color:#1a1a1a" fill="#1a1a1a">60</text>
<text transform="translate(1296.70,1364.54) scale(1.1496,1)" style="font-size:37.29px;color:#1a1a1a" fill="#1a1a1a">70</text>
<text transform="translate(1296.68,1296.34) scale(1.1499,1)" style="font-size:37.29px;color:#1a1a1a" fill="#1a1a1a">80</text>
<text transform="translate(1296.69,1228.14) scale(1.1497,1)" style="font-size:37.29px;color:#1a1a1a" fill="#1a1a1a">90</text>
<text transform="translate(1271.98,1159.94) scale(1.1639,1)" style="font-size:37.29px;color:#1a1a1a" fill="#1a1a1a">100</text>
<text transform="translate(1423.78,1880.42) scale(1.1329,1)" style="font-size:38.70px;color:#1a1a1a" fill="#1a1a1a">100</text>
<text transform="translate(1605.89,1880.42) scale(1.1144,1)" style="font-size:38.70px;color:#1a1a1a" fill="#1a1a1a">200</text>
<text transform="translate(1787.37,1880.42) scale(1.1058,1)" style="font-size:38.70px;color:#1a1a1a" fill="#1a1a1a">300</text>
<text transform="translate(1968.97,1880.42) scale(1.0954,1)" style="font-size:38.70px;color:#1a1a1a" fill="#1a1a1a">400</text>
<text transform="translate(2149.16,1880.42) scale(1.1072,1)" style="font-size:38.70px;color:#1a1a1a" fill="#1a1a1a">500</text>
<text transform="translate(1599.11,1972.04) scale(1.1842,1)" style="font-size:48.49px;color:#1a1a1a" fill="#1a1a1a">Temperature (°C)</text>
<rect x="162.0" y="2196.5" width="905.0" height="715.8" fill="none" stroke="#1c1c1c" stroke-width="3.6"/>
<path d="M150.0,2912.3H162.0M156.5,2878.2H162.0M150.0,2844.1H162.0M156.5,2810.0H162.0M150.0,2776.0H162.0M156.5,2741.9H162.0M150.0,2707.8H162.0M156.5,2673.7H162.0M150.0,2639.6H162.0M156.5,2605.5H162.0M150.0,2571.4H162.0M156.5,2537.4H162.0M150.0,2503.3H162.0M156.5,2469.2H162.0M150.0,2435.1H162.0M156.5,2401.0H162.0M150.0,2366.9H162.0M156.5,2332.8H162.0M150.0,2298.8H162.0M156.5,2264.7H162.0M150.0,2230.6H162.0M156.5,2196.5H162.0M162.0,2912.3V2918.3M252.5,2912.3V2923.9M343.0,2912.3V2918.3M433.5,2912.3V2923.9M524.0,2912.3V2918.3M614.5,2912.3V2923.9M705.0,2912.3V2918.3M795.5,2912.3V2923.9M886.0,2912.3V2918.3M976.5,2912.3V2923.9M1067.0,2912.3V2918.3" stroke="#1c1c1c" stroke-width="3.6" fill="none"/>
<text transform="translate(113.46,2919.84) scale(1.1018,1)" style="font-size:37.29px;color:#1a1a1a" fill="#1a1a1a">0</text>
<text transform="translate(88.74,2851.66) scale(1.1485,1)" style="font-size:37.29px;color:#1a1a1a" fill="#1a1a1a">10</text>
<text transform="translate(88.69,2783.49) scale(1.1496,1)" style="font-size:37.29px;color:#1a1a1a" fill="#1a1a1a">20</text>
<text transform="translate(88.67,2715.32) scale(1.1501,1)" style="font-size:37.29px;color:#1a1a1a" fill="#1a1a1a">30</text>
<text transform="translate(88.65,2647.15) scale(1.1507,1)" style="font-size:37.29px;color:#1a1a1a" fill="#1a1a1a">40</text>
<text transform="translate(88.68,2578.98) scale(1.1500,1)" style="font-size:37.29px;color:#1a1a1a" fill="#1a1a1a">50</text>
<text transform="translate(88.70,2510.81) scale(1.1496,1)" style="font-size:37.29px;color:#1a1a1a" fill="#1a1a1a">60</text>
<text transform="translate(88.70,2442.64) scale(1.1496,1)" style="font-size:37.29px;color:#1a1a1a" fill="#1a1a1a">70</text>
<text transform="translate(88.68,2374.46) scale(1.1499,1)" style="font-size:37.29px;color:#1a1a1a" fill="#1a1a1a">80</text>
<text transform="translate(88.69,2306.29) scale(1.1497,1)" style="font-size:37.29px;color:#1a1a1a" fill="#1a1a1a">90</text>
<text transform="translate(63.98,2238.12) scale(1.1639,1)" style="font-size:37.29px;color:#1a1a1a" fill="#1a1a1a">100</text>
<text transform="translate(215.81,2958.32) scale(1.1329,1)" style="font-size:38.70px;color:#1a1a1a" fill="#1a1a1a">100</text>
<text transform="translate(397.98,2958.32) scale(1.1144,1)" style="font-size:38.70px;color:#1a1a1a" fill="#1a1a1a">200</text>
<text transform="translate(579.52,2958.32) scale(1.1058,1)" style="font-size:38.70px;color:#1a1a1a" fill="#1a1a1a">300</text>
<text transform="translate(761.18,2958.32) scale(1.0954,1)" style="font-size:38.70px;color:#1a1a1a" fill="#1a1a1a">400</text>
<text transform="translate(941.43,2958.32) scale(1.1072,1)" style="font-size:38.70px;color:#1a1a1a" fill="#1a1a1a">500</text>
<text transform="translate(391.11,3049.94) scale(1.1842,1)" style="font-size:48.49px;color:#1a1a1a" fill="#1a1a1a">Temperature (°C)</text>
<rect x="1370.0" y="2196.5" width="904.7" height="715.8" fill="none" stroke="#1c1c1c" stroke-width="3.6"/>
<path d="M1358.0,2912.3H1370.0M1364.5,2878.2H1370.0M1358.0,2844.1H1370.0M1364.5,2810.0H1370.0M1358.0,2776.0H1370.0M1364.5,2741.9H1370.0M1358.0,2707.8H1370.0M1364.5,2673.7H1370.0M1358.0,2639.6H1370.0M1364.5,2605.5H1370.0M1358.0,2571.4H1370.0M1364.5,2537.4H1370.0M1358.0,2503.3H1370.0M1364.5,2469.2H1370.0M1358.0,2435.1H1370.0M1364.5,2401.0H1370.0M1358.0,2366.9H1370.0M1364.5,2332.8H1370.0M1358.0,2298.8H1370.0M1364.5,2264.7H1370.0M1358.0,2230.6H1370.0M1364.5,2196.5H1370.0M1370.0,2912.3V2918.3M1460.5,2912.3V2923.9M1550.9,2912.3V2918.3M1641.4,2912.3V2923.9M1731.9,2912.3V2918.3M1822.3,2912.3V2923.9M1912.8,2912.3V2918.3M2003.3,2912.3V2923.9M2093.8,2912.3V2918.3M2184.2,2912.3V2923.9M2274.7,2912.3V2918.3" stroke="#1c1c1c" stroke-width="3.6" fill="none"/>
<text transform="translate(1321.46,2919.84) scale(1.1018,1)" style="font-size:37.29px;color:#1a1a1a" fill="#1a1a1a">0</text>
<text transform="translate(1296.74,2851.66) scale(1.1485,1)" style="font-size:37.29px;color:#1a1a1a" fill="#1a1a1a">10</text>
<text transform="translate(1296.69,2783.49) scale(1.1496,1)" style="font-size:37.29px;color:#1a1a1a" fill="#1a1a1a">20</text>
<text transform="translate(1296.67,2715.32) scale(1.1501,1)" style="font-size:37.29px;color:#1a1a1a" fill="#1a1a1a">30</text>
<text transform="translate(1296.65,2647.15) scale(1.1507,1)" style="font-size:37.29px;color:#1a1a1a" fill="#1a1a1a">40</text>
<text transform="translate(1296.68,2578.98) scale(1.1500,1)" style="font-size:37.29px;color:#1a1a1a" fill="#1a1a1a">50</text>
<text transform="translate(1296.70,2510.81) scale(1.1496,1)" style="font-size:37.29px;color:#1a1a1a" fill="#1a1a1a">60</text>
<text transform="translate(1296.70,2442.64) scale(1.1496,1)" style="font-size:37.29px;color:#1a1a1a" fill="#1a1a1a">70</text>
<text transform="translate(1296.68,2374.46) scale(1.1499,1)" style="font-size:37.29px;color:#1a1a1a" fill="#1a1a1a">80</text>
<text transform="translate(1296.69,2306.29) scale(1.1497,1)" style="font-size:37.29px;color:#1a1a1a" fill="#1a1a1a">90</text>
<text transform="translate(1271.98,2238.12) scale(1.1639,1)" style="font-size:37.29px;color:#1a1a1a" fill="#1a1a1a">100</text>
<text transform="translate(1423.78,2958.32) scale(1.1329,1)" style="font-size:38.70px;color:#1a1a1a" fill="#1a1a1a">100</text>
<text transform="translate(1605.89,2958.32) scale(1.1144,1)" style="font-size:38.70px;color:#1a1a1a" fill="#1a1a1a">200</text>
<text transform="translate(1787.37,2958.32) scale(1.1058,1)" style="font-size:38.70px;color:#1a1a1a" fill="#1a1a1a">300</text>
<text transform="translate(1968.97,2958.32) scale(1.0954,1)" style="font-size:38.70px;color:#1a1a1a" fill="#1a1a1a">400</text>
<text transform="translate(2149.16,2958.32) scale(1.1072,1)" style="font-size:38.70px;color:#1a1a1a" fill="#1a1a1a">500</text>
<text transform="translate(1599.11,3049.94) scale(1.1842,1)" style="font-size:48.49px;color:#1a1a1a" fill="#1a1a1a">Temperature (°C)</text>
<text transform="translate(60.78,303.55) rotate(-90) scale(1.1629,1)" style="font-size:44.55px;color:#1a1a1a" fill="#1a1a1a">(%)</text>
<text transform="translate(60.78,380.97) rotate(-90) scale(1.0303,1)" style="font-size:44.55px;color:#1a1a1a" fill="#1a1a1a">ass</text>
<text transform="translate(60.78,429.31) rotate(-90) scale(1.4795,1)" style="font-size:44.55px;color:#1a1a1a" fill="#1a1a1a">M</text>
<text transform="translate(63.80,1367.16) rotate(-90) scale(1.1455,1)" style="font-size:45.40px;color:#1a1a1a" fill="#1a1a1a">(%)</text>
<text transform="translate(63.80,1444.90) rotate(-90) scale(1.0149,1)" style="font-size:45.40px;color:#1a1a1a" fill="#1a1a1a">ass</text>
<text transform="translate(63.80,1493.43) rotate(-90) scale(1.4574,1)" style="font-size:45.40px;color:#1a1a1a" fill="#1a1a1a">M</text>
<text transform="translate(56.86,2445.64) rotate(-90) scale(1.1810,1)" style="font-size:43.69px;color:#1a1a1a" fill="#1a1a1a">(%)</text>
<text transform="translate(56.86,2522.75) rotate(-90) scale(1.0463,1)" style="font-size:43.69px;color:#1a1a1a" fill="#1a1a1a">ass</text>
<text transform="translate(56.86,2570.88) rotate(-90) scale(1.5025,1)" style="font-size:43.69px;color:#1a1a1a" fill="#1a1a1a">M</text>
<text transform="translate(1265.08,291.70) rotate(-90) scale(1.1441,1)" style="font-size:44.55px;color:#1a1a1a" fill="#1a1a1a">(%)</text>
<text transform="translate(1265.08,367.87) rotate(-90) scale(1.0136,1)" style="font-size:44.55px;color:#1a1a1a" fill="#1a1a1a">ass</text>
<text transform="translate(1265.08,415.42) rotate(-90) scale(1.4556,1)" style="font-size:44.55px;color:#1a1a1a" fill="#1a1a1a">M</text>
<text transform="translate(1265.08,1367.16) rotate(-90) scale(1.1676,1)" style="font-size:44.55px;color:#1a1a1a" fill="#1a1a1a">(%)</text>
<text transform="translate(1265.08,1444.90) rotate(-90) scale(1.0345,1)" style="font-size:44.55px;color:#1a1a1a" fill="#1a1a1a">ass</text>
<text transform="translate(1265.08,1493.43) rotate(-90) scale(1.4855,1)" style="font-size:44.55px;color:#1a1a1a" fill="#1a1a1a">M</text>
<text transform="translate(1265.08,2445.15) rotate(-90) scale(1.1629,1)" style="font-size:44.55px;color:#1a1a1a" fill="#1a1a1a">(%)</text>
<text transform="translate(1265.08,2522.57) rotate(-90) scale(1.0303,1)" style="font-size:44.55px;color:#1a1a1a" fill="#1a1a1a">ass</text>
<text transform="translate(1265.08,2570.91) rotate(-90) scale(1.4795,1)" style="font-size:44.55px;color:#1a1a1a" fill="#1a1a1a">M</text>
<text class="pl" transform="translate(946.41,110.42) scale(1.2118,1)" style="font-size:70.41px;color:#111" fill="#111">(a)</text>
<text class="pl" transform="translate(2160.46,107.13) scale(1.2160,1)" style="font-size:70.84px;color:#111" fill="#111">(d)</text>
<text class="pl" transform="translate(939.38,1191.93) scale(1.2571,1)" style="font-size:70.84px;color:#111" fill="#111">(b)</text>
<text class="pl" transform="translate(2154.43,1184.62) scale(1.2362,1)" style="font-size:71.38px;color:#111" fill="#111">(e)</text>
<text class="pl" transform="translate(945.33,2273.13) scale(1.2450,1)" style="font-size:70.84px;color:#111" fill="#111">(c)</text>
<text class="pl" transform="translate(2179.93,2258.72) scale(1.2299,1)" style="font-size:70.41px;color:#111" fill="#111">(f)</text>
</svg></body></html>
